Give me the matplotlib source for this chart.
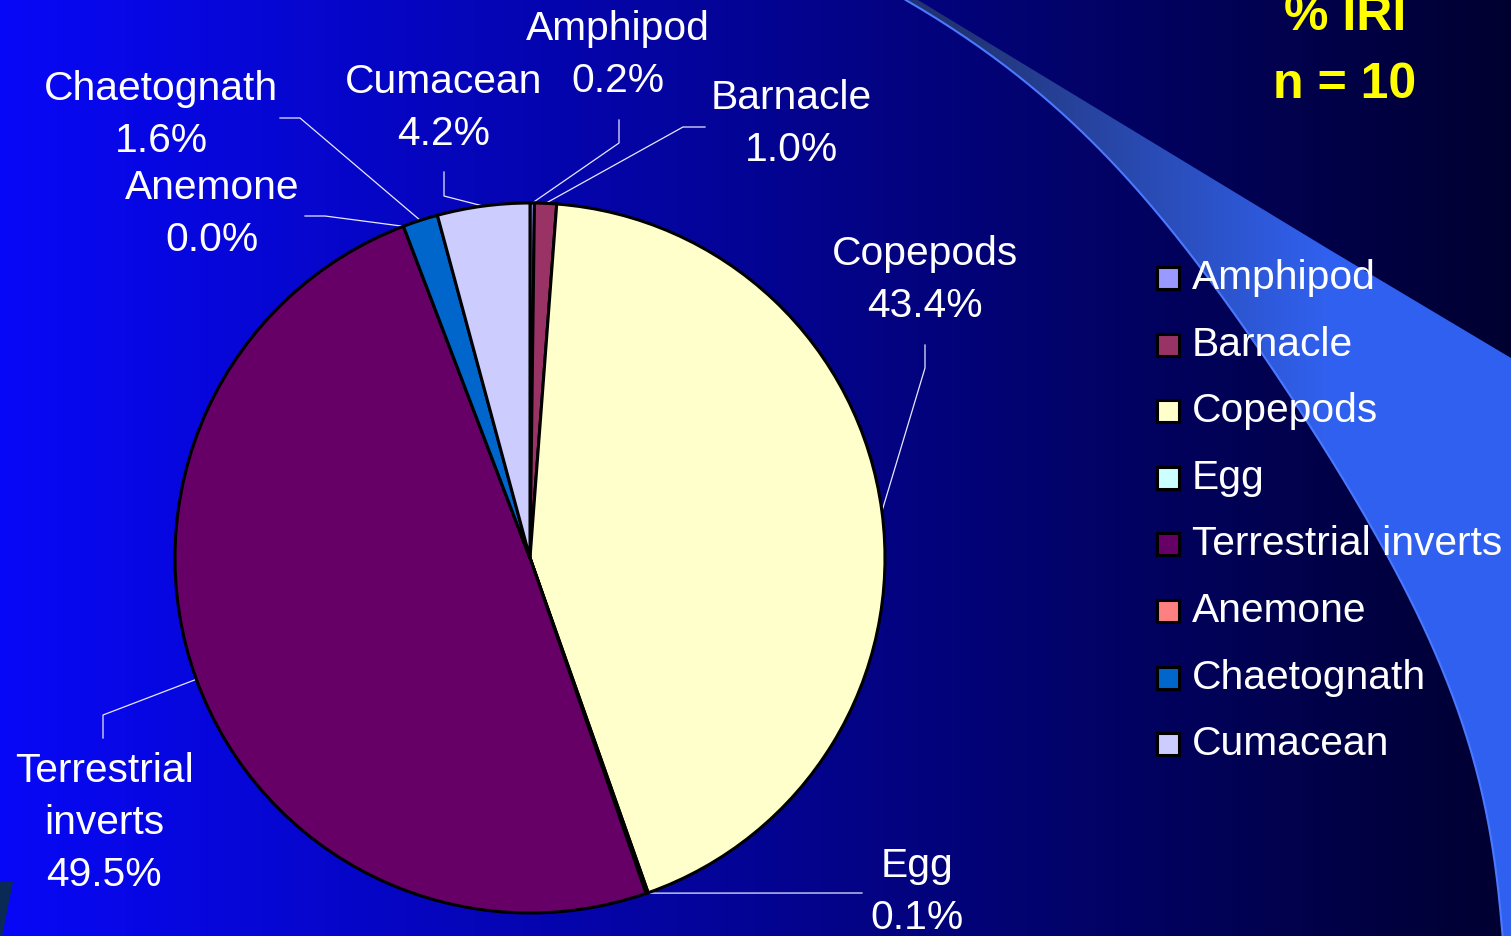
"""Pie chart of %IRI by prey group (n = 10) on a slide-style blue background."""
import matplotlib
matplotlib.use("Agg")
import matplotlib.pyplot as plt
import numpy as np
from matplotlib.patches import Polygon, Rectangle

W, H = 1511, 936

categories = ["Amphipod", "Barnacle", "Copepods", "Egg", "Terrestrial inverts",
              "Anemone", "Chaetognath", "Cumacean"]
pct_iri = [0.2, 1.0, 43.4, 0.1, 49.5, 0.0, 1.6, 4.2]
colors = ["#9999ff", "#993366", "#ffffcc", "#ccffff", "#660066",
          "#ff8080", "#0066cc", "#ccccff"]
pct_labels = ["0.2%", "1.0%", "43.4%", "0.1%", "49.5%", "0.0%", "1.6%", "4.2%"]
label_names = ["Amphipod", "Barnacle", "Copepods", "Egg", "Terrestrial\ninverts",
               "Anemone", "Chaetognath", "Cumacean"]

FONT = "Liberation Sans"
FS = 29.3


def Y(y):
    # pixel rows run downwards, data y runs upwards
    return H - y


fig = plt.figure(figsize=(W / 100, H / 100), dpi=100)
ax = fig.add_axes([0, 0, 1, 1])

# background: horizontal gradient bright blue -> navy
left = np.array([0.03, 0.03, 0.97])
right = np.array([0.0, 0.0, 0.19])
t = np.linspace(0, 1, 512)[:, None]
grad = (left * (1 - t) + right * t)[None, :, :]
ax.imshow(grad, extent=(0, W, 0, H), aspect="auto", zorder=0)

# swoosh on the right: smooth inner edge through a few traced points
trace = np.array([(906, 0), (1000, 62), (1100, 152), (1190, 250), (1260, 350),
                  (1323, 450), (1383, 550), (1437, 650), (1470, 750), (1492, 850),
                  (1503, 936)], dtype=float)
coef = np.polyfit(trace[:, 1], trace[:, 0], 5)
yy = np.linspace(0, H, 200)
xx = np.polyval(coef, yy)
inner = list(zip(xx, yy))
outer = [(1511, 936), (1511, 358), (1330, 250), (918, 0)]
swoosh = Polygon([(x, Y(y)) for x, y in inner + outer], closed=True,
                 facecolor="none", edgecolor="none")
ax.add_patch(swoosh)
c0 = np.array([0.13, 0.20, 0.45])
c1 = np.array([0.19, 0.38, 0.94])
s = np.clip((np.linspace(900, W, 512) - 950) / 380, 0, 1)[:, None]
sg = (c0 * (1 - s) + c1 * s)[None, :, :]
im = ax.imshow(sg, extent=(900, W, 0, H), aspect="auto", zorder=1)
im.set_clip_path(swoosh)
ax.plot(xx, Y(yy), color="#4a78ff", lw=1.5, zorder=1.5)

# small dark shape bottom-left
ax.add_patch(Polygon([(0, Y(882)), (13, Y(882)), (2, Y(936)), (0, Y(936))],
                     closed=True, facecolor="#0a2a55", edgecolor="none", zorder=1))

cx, cy, r = 530, 558, 355
wedges, _ = ax.pie(pct_iri, colors=colors, startangle=90, counterclock=False,
                   center=(cx, Y(cy)), radius=r,
                   wedgeprops=dict(edgecolor="black", linewidth=2.2))
for w in wedges:
    w.set_zorder(3)
ax.set_xlim(0, W)
ax.set_ylim(0, H)
ax.set_aspect("auto")
ax.axis("off")

# label block centres and leader elbows (pixel coords)
label_pos = [(618, 55), (791, 124), (925, 280), (917, 892), (104, 823),
             (212, 214), (161, 115), (444, 108)]
leader_pts = [
    [(619, 120), (619, 143)],
    [(705, 127), (683, 127)],
    [(925, 345), (925, 368)],
    [(862, 893)],
    [(103, 738), (103, 715)],
    [(305, 216), (325, 216)],
    [(280, 118), (300, 118)],
    [(444, 172), (444, 196)],
]

for w, name, pct, (lx, ly), pts in zip(wedges, label_names, pct_labels,
                                       label_pos, leader_pts):
    mid = np.deg2rad((w.theta1 + w.theta2) / 2)
    ex, ey = cx + r * np.cos(mid), Y(cy) + r * np.sin(mid)
    xs = [p[0] for p in pts] + [ex]
    ys = [Y(p[1]) for p in pts] + [ey]
    ax.plot(xs, ys, color="#e8e8ff", lw=0.9, zorder=2)
    ax.text(lx, Y(ly), f"{name}\n{pct}", ha="center", va="center", color="white",
            fontsize=FS, family=FONT, linespacing=1.46, zorder=4)

# legend
leg_y0, leg_dy = 278, 66.6
for i, (name, col) in enumerate(zip(categories, colors)):
    yc = leg_y0 + i * leg_dy
    ax.add_patch(Rectangle((1157, Y(yc + 11)), 22, 22, facecolor=col,
                           edgecolor="black", lw=2.2, zorder=4))
    ax.text(1192, Y(yc + 11), name, ha="left", va="baseline", color="white",
            fontsize=FS, family=FONT, zorder=4)

# title
ax.text(1345, Y(30), "% IRI", ha="center", va="baseline", color="#ffff00",
        fontsize=36, fontweight="bold", family=FONT, zorder=4)
ax.text(1345, Y(98), "n = 10", ha="center", va="baseline", color="#ffff00",
        fontsize=36, fontweight="bold", family=FONT, zorder=4)

fig.savefig("out.png", dpi=100)
